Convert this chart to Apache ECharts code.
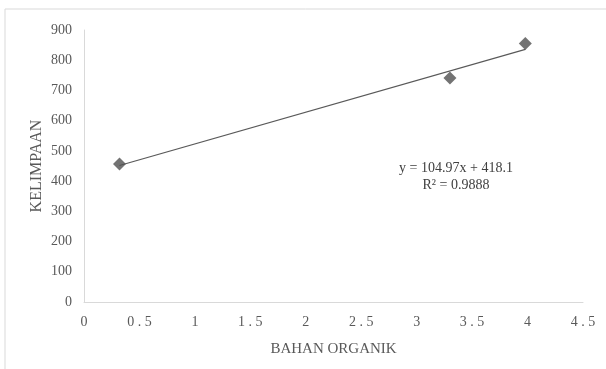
<!DOCTYPE html>
<html>
<head>
<meta charset="utf-8">
<script src="https://cdn.jsdelivr.net/npm/echarts@6/dist/echarts.min.js"></script>
<style>
html,body{margin:0;padding:0;background:#fff;}
#c{width:606px;height:369px;}
</style>
</head>
<body>
<div id="c"></div>
<script>
var xValues = [0.32, 3.3, 3.98];
var yValues = [457, 741, 855];
var slope = 104.97, intercept = 418.1;
var trendX = [0.32, 3.98];
var xTickLabels = {'0':'0','0.5':'0 . 5','1':'1','1.5':'1 . 5','2':'2','2.5':'2 . 5','3':'3','3.5':'3 . 5','4':'4','4.5':'4 . 5'};
var xAxisTitle = 'BAHAN ORGANIK';
var yAxisTitle = 'KELIMPAAN';
var eqText = 'y = 104.97x + 418.1';
var r2Text = 'R² = 0.9888';

var pts = xValues.map(function(x,i){return [x, yValues[i]];});
var trend = trendX.map(function(x){return [x, slope*x+intercept];});
var font = '"Liberation Serif","Times New Roman",serif';

var chart = echarts.init(document.getElementById('c'));
chart.setOption({
  animation:false,
  backgroundColor:'#fff',
  grid:{left:84,right:23,top:30,bottom:67},
  xAxis:{type:'value',min:0,max:4.5,interval:0.5,
    axisLine:{show:true,lineStyle:{color:'#d9d9d9',width:1}},
    axisTick:{show:false},splitLine:{show:false},
    axisLabel:{color:'#595959',fontFamily:font,fontSize:14,margin:13,
      formatter:function(v){var k=String(Math.round(v*10)/10);return xTickLabels[k]!==undefined?xTickLabels[k]:k;}},
    name:xAxisTitle,nameLocation:'middle',nameGap:40,
    nameTextStyle:{color:'#595959',fontFamily:font,fontSize:15}},
  yAxis:{type:'value',min:0,max:900,interval:100,
    axisLine:{show:true,lineStyle:{color:'#d9d9d9',width:1}},
    axisTick:{show:false},splitLine:{show:false},
    axisLabel:{color:'#595959',fontFamily:font,fontSize:14,margin:12}},
  graphic:[
    {type:'line',shape:{x1:5,y1:9,x2:5,y2:369},style:{stroke:'#d9d9d9',lineWidth:1}},
    {type:'line',shape:{x1:5,y1:9,x2:606,y2:9},style:{stroke:'#d9d9d9',lineWidth:1}},
    {type:'text',x:37,y:166,rotation:Math.PI/2,style:{text:yAxisTitle,fill:'#595959',font:'16px '+font,textAlign:'center',textVerticalAlign:'middle'}},
    {type:'text',x:456,y:168,style:{text:eqText,fill:'#404040',font:'14px '+font,textAlign:'center',textVerticalAlign:'middle'}},
    {type:'text',x:456,y:185,style:{text:r2Text,fill:'#404040',font:'14px '+font,textAlign:'center',textVerticalAlign:'middle'}}
  ],
  series:[
    {type:'line',data:trend,symbol:'none',lineStyle:{color:'#595959',width:1.2},z:2},
    {type:'scatter',data:pts,symbol:'diamond',symbolSize:13,itemStyle:{color:'#505050'},z:3}
  ]
});
</script>
</body>
</html>
